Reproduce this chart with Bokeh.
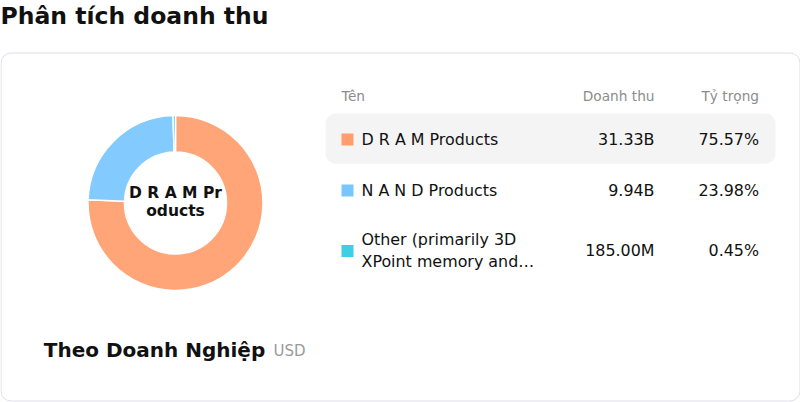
import math
from bokeh.plotting import figure
from bokeh.models import ColumnDataSource, Range1d, BoxAnnotation
from bokeh.core.properties import value
from bokeh.embed import file_html
from bokeh.resources import INLINE

# ---- data ----
title_text = "Phân tích doanh thu"
subtitle_text = "Theo Doanh Nghiệp"
unit_text = "USD"
headers = ["Tên", "Doanh thu", "Tỷ trọng"]
categories = ["D R A M Products", "N A N D Products", "Other (primarily 3D\nXPoint memory and…"]
revenues = [31.33e9, 9.94e9, 185.00e6]
shares = [75.57, 23.98, 0.45]
center_label = "D R A M Pr\noducts"
colors = ["#FF9D6C", "#78C6FF", "#3ECFE4"]

FONT = "DejaVu Sans"
W, H = 800, 402


def fmt_rev(v):
    if v >= 1e9:
        return f"{v / 1e9:.2f}B"
    if v >= 1e6:
        return f"{v / 1e6:.2f}M"
    return f"{v:.2f}"


# picture coordinate helpers (y measured downward from the top)
def X(px):
    return px


def Y(py):
    return H - py


p = figure(width=W, height=H, output_backend="svg", toolbar_location=None,
           x_range=Range1d(0, W), y_range=Range1d(0, H), min_border=0,
           background_fill_color="white", border_fill_color="white")
p.axis.visible = False
p.grid.visible = False
p.outline_line_color = None

# card
p.add_layout(BoxAnnotation(left=0.5, right=W - 0.5, top=Y(52.5), bottom=Y(H - 1.5),
                           fill_color="white", fill_alpha=1, line_color="#E0DEEA",
                           line_alpha=1, line_width=1, border_radius=10, level="underlay"))
# highlighted first row
p.add_layout(BoxAnnotation(left=X(325), right=X(775), top=Y(113), bottom=Y(163.3),
                           fill_color="#F4F4F4", fill_alpha=1, line_alpha=0,
                           border_radius=10, level="underlay"))

# title
p.text(x=[X(0)], y=[Y(15.5)], text=[title_text], text_font=value(FONT),
       text_font_size="23.5px", text_font_style="bold", text_color="#111111",
       text_baseline="middle", text_align="left")

# donut
total = sum(shares)
starts, ends = [], []
cum = 0.0
for s in shares:
    starts.append(math.pi / 2 - 2 * math.pi * cum / total)
    cum += s
    ends.append(math.pi / 2 - 2 * math.pi * cum / total)
dsrc = ColumnDataSource(dict(start=starts, end=ends, color=colors))
p.annular_wedge(x=X(175), y=Y(202.5), inner_radius=51, outer_radius=87.5,
                start_angle="start", end_angle="end", direction="clock",
                fill_color="color", fill_alpha=0.92, line_color="white", line_width=1.5,
                source=dsrc)
p.text(x=[X(175)], y=[Y(201.5)], text=[center_label], text_font=value(FONT),
       text_font_size="15.5px", text_font_style="bold", text_color="#111111",
       text_align="center", text_baseline="middle", text_line_height=1.05)

# bottom label
p.text(x=[X(43.3)], y=[Y(349.5)], text=[subtitle_text], text_font=value(FONT),
       text_font_size="20px", text_font_style="bold", text_color="#111111",
       text_baseline="middle")
p.text(x=[X(273)], y=[Y(350.5)], text=[unit_text], text_font=value(FONT),
       text_font_size="15px", text_color="#9A9A9A", text_baseline="middle")

# table header
hy = Y(95)
p.text(x=[X(341)], y=[hy], text=[headers[0]], text_font=value(FONT), text_font_size="13.7px",
       text_color="#8C8C8C", text_align="left", text_baseline="middle")
p.text(x=[X(654)], y=[hy], text=[headers[1]], text_font=value(FONT), text_font_size="13.7px",
       text_color="#8C8C8C", text_align="right", text_baseline="middle")
p.text(x=[X(758.5)], y=[hy], text=[headers[2]], text_font=value(FONT), text_font_size="13.7px",
       text_color="#8C8C8C", text_align="right", text_baseline="middle")

# table rows
row_py = [138.5, 189.5, 250]
rsrc = ColumnDataSource(dict(
    y=[Y(v) for v in row_py],
    sy=[Y(v + 0.5) for v in row_py],
    name=categories,
    rev=[fmt_rev(v) for v in revenues],
    share=[f"{s:.2f}%" for s in shares],
    color=colors,
))
p.rect(x=X(347), y="sy", width=12, height=12, fill_color="color", line_color=None, source=rsrc)
p.text(x=X(361), y="y", text="name", text_font=value(FONT), text_font_size="15.9px",
       text_color="#111111", text_align="left", text_baseline="middle",
       text_line_height=1.16, source=rsrc)
p.text(x=X(654), y="y", text="rev", text_font=value(FONT), text_font_size="15.9px",
       text_color="#111111", text_align="right", text_baseline="middle", source=rsrc)
p.text(x=X(758.5), y="y", text="share", text_font=value(FONT), text_font_size="15.9px",
       text_color="#111111", text_align="right", text_baseline="middle", source=rsrc)

open("out.html", "w").write(file_html(p, INLINE))
